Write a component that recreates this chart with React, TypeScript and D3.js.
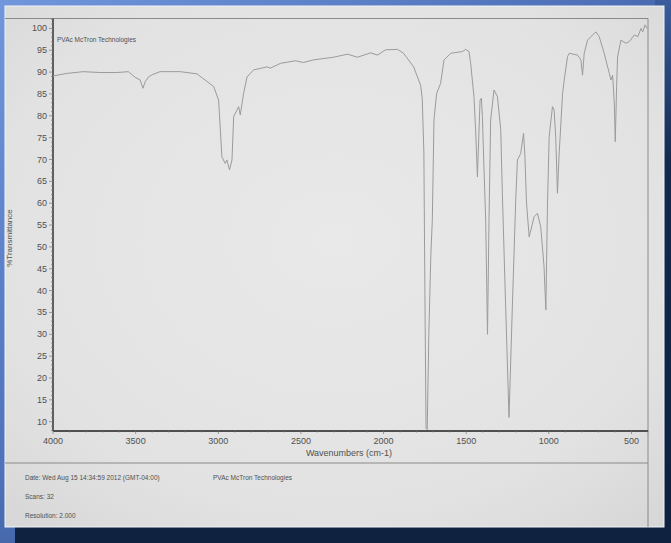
import * as d3 from 'd3';

// IR spectrum (wavenumber cm-1, %T)
const wavenumbers = [
  4000, 3917, 3816, 3715, 3614, 3544, 3503, 3473, 3456, 3442, 3422, 3400, 3352, 3230, 3129,
  3028, 2998, 2978, 2958, 2948, 2932, 2917, 2907, 2887, 2877, 2867, 2847, 2826, 2786, 2705,
  2685, 2624, 2533, 2485, 2424, 2303, 2218, 2158, 2079, 2036, 1988, 1915, 1879, 1818, 1788,
  1776, 1766, 1756, 1750, 1743, 1736, 1726, 1714, 1705, 1695, 1679, 1655, 1634, 1594, 1523,
  1503, 1483, 1473, 1453, 1443, 1432, 1424, 1416, 1408, 1402, 1392, 1382, 1371, 1362, 1352,
  1332, 1311, 1291, 1281, 1261, 1241, 1221, 1200, 1190, 1170, 1153, 1145, 1135, 1119, 1089,
  1069, 1049, 1029, 1018, 1008, 998, 978, 968, 958, 948, 938, 917, 907, 887, 877,
  826, 806, 796, 786, 766, 735, 715, 695, 665, 634, 624, 614, 604, 598, 590,
  584, 564, 533, 513, 483, 462, 442, 432, 418, 406,
];
const transmittance = [
  89.1, 89.7, 90.1, 89.9, 89.9, 90.1, 88.8, 88.2, 86.3, 87.8, 88.9, 89.4, 90.1, 90.1, 89.6,
  86.7, 83.6, 70.6, 69.1, 69.9, 67.6, 69.9, 79.8, 81.3, 82.1, 80.2, 85.1, 88.9, 90.5, 91.2,
  90.9, 92.0, 92.6, 92.2, 92.8, 93.4, 94.1, 93.4, 94.4, 93.9, 95.1, 95.2, 94.3, 91.2, 88.2,
  87.0, 84.0, 71.5, 40, 8.5, 8.2, 30, 48, 56, 79, 85.1, 87.4, 92.8, 94.3, 94.7,
  95.2, 94.7, 92.0, 84.4, 76.8, 66.0, 75, 83.6, 84.0, 79.8, 67.6, 56, 30, 56, 79,
  85.9, 84.4, 76.8, 62, 36, 11, 36, 61, 69.9, 71.4, 76, 71, 60, 52.3, 56.9,
  57.7, 54.6, 45.5, 35.6, 60, 75.2, 82.1, 81.3, 75, 62.3, 71, 85.1, 88.2, 93.5, 94.3,
  93.9, 92.8, 89.3, 94.3, 97.3, 98.5, 99.2, 98.1, 94.3, 89.7, 88.2, 89.3, 82.9, 74.1, 86.7,
  93.5, 97.3, 96.6, 97, 98.5, 98.1, 100, 99.2, 100.8, 100,
];

const xTicks = [4000, 3500, 3000, 2500, 2000, 1500, 1000, 500];
const yTicks = [10, 15, 20, 25, 30, 35, 40, 45, 50, 55, 60, 65, 70, 75, 80, 85, 90, 95, 100];
const footerLines = ['Date: Wed Aug 15 14:34:59 2012 (GMT-04:00)', 'Scans: 32', 'Resolution: 2.000'];
const sampleName = 'PVAc McTron Technologies';

export default function App() {
  const W = 671, H = 543;
  const left = 53, right = 648, top = 18.5, bottom = 431;

  const x = d3.scaleLinear().domain([4000, 400]).range([left, right]);
  const y = d3.scaleLinear().domain([10, 100]).range([421.7, 28.4]);

  const pts = wavenumbers.map((w, i) => [w, transmittance[i]] as [number, number]);
  const line = d3.line<[number, number]>().x(d => x(d[0])).y(d => y(d[1]));

  const minorY = d3.range(8, 103, 1);
  const minorX = d3.range(4000, 399, -100);
  const font = 'Arial, "Liberation Sans", sans-serif';
  const ink = '#505050';

  return (
    <div style={{ position: 'fixed', left: 0, top: 0 }}>
      <svg width={W} height={H} style={{ display: 'block' }}>
        <defs>
          <linearGradient id="frame" x1="0" y1="0" x2="1" y2="1">
            <stop offset="0" stopColor="#7196dc" />
            <stop offset="0.45" stopColor="#4d70b8" />
            <stop offset="1" stopColor="#0c1f3c" />
          </linearGradient>
          <linearGradient id="rightStrip" x1="0" y1="0" x2="0" y2="1">
            <stop offset="0" stopColor="#3b5d9e" />
            <stop offset="0.3" stopColor="#13294d" />
            <stop offset="1" stopColor="#0e213e" />
          </linearGradient>
          <radialGradient id="paper" cx="0.5" cy="0.45" r="0.75">
            <stop offset="0" stopColor="#e9e9e9" />
            <stop offset="0.7" stopColor="#e2e2e2" />
            <stop offset="1" stopColor="#d6d6d6" />
          </radialGradient>
        </defs>

        {/* frame and paper */}
        <rect x={0} y={0} width={W} height={H} fill="url(#frame)" />
        <rect x={655} y={0} width={16} height={H} fill="url(#rightStrip)" />
        <rect x={15} y={527} width={W - 15} height={16} fill="#0f2341" />
        <rect x={5} y={6} width={659} height={521} fill="url(#paper)" stroke="#f2f4f8" strokeWidth={1} />

        {/* frame lines */}
        <line x1={5} x2={right} y1={top} y2={top} stroke="#8a8a8a" strokeWidth={1} />
        <line x1={right} x2={right} y1={top} y2={527} stroke="#8a8a8a" strokeWidth={1} />
        <line x1={5} x2={right} y1={463} y2={463} stroke="#8a8a8a" strokeWidth={1} />

        {/* y axis */}
        <line x1={left} x2={left} y1={top} y2={bottom} stroke="#505050" strokeWidth={1.8} />
        {minorY.map(v => (
          <line key={'my' + v} x1={left - (v % 5 === 0 ? 4 : 2)} x2={left} y1={y(v)} y2={y(v)} stroke="#777" strokeWidth={0.7} />
        ))}
        {yTicks.map(v => (
          <text key={'ty' + v} x={left - 6} y={y(v) + 3} textAnchor="end" fontFamily={font} fontSize={9} fill={ink}>{v}</text>
        ))}
        <text transform={`translate(12,${238}) rotate(-90)`} textAnchor="middle" fontFamily={font} fontSize={8} fill={ink}>%Transmittance</text>

        {/* x axis */}
        <line x1={left} x2={right} y1={bottom} y2={bottom} stroke="#505050" strokeWidth={1.8} />
        {minorX.map(v => (
          <line key={'mx' + v} x1={x(v)} x2={x(v)} y1={bottom} y2={bottom + (v % 500 === 0 ? 3 : 1.5)} stroke="#777" strokeWidth={0.7} />
        ))}
        {xTicks.map(v => (
          <text key={'tx' + v} x={x(v)} y={bottom + 13} textAnchor="middle" fontFamily={font} fontSize={9} fill={ink}>{v}</text>
        ))}
        <text x={349} y={456} textAnchor="middle" fontFamily={font} fontSize={9} fill={ink}>Wavenumbers (cm-1)</text>

        {/* spectrum */}
        <path d={line(pts) ?? ''} fill="none" stroke="#9b9b9b" strokeWidth={1} strokeLinejoin="round" />
        <text x={57} y={42} fontFamily={font} fontSize={6.5} fill={ink}>{sampleName}</text>

        {/* footer */}
        <text x={25} y={480} fontFamily={font} fontSize={6.5} fill={ink}>{footerLines[0]}</text>
        <text x={213} y={480} fontFamily={font} fontSize={6.5} fill={ink}>{sampleName}</text>
        <text x={25} y={499} fontFamily={font} fontSize={6.5} fill={ink}>{footerLines[1]}</text>
        <text x={25} y={518} fontFamily={font} fontSize={6.5} fill={ink}>{footerLines[2]}</text>
      </svg>
    </div>
  );
}
